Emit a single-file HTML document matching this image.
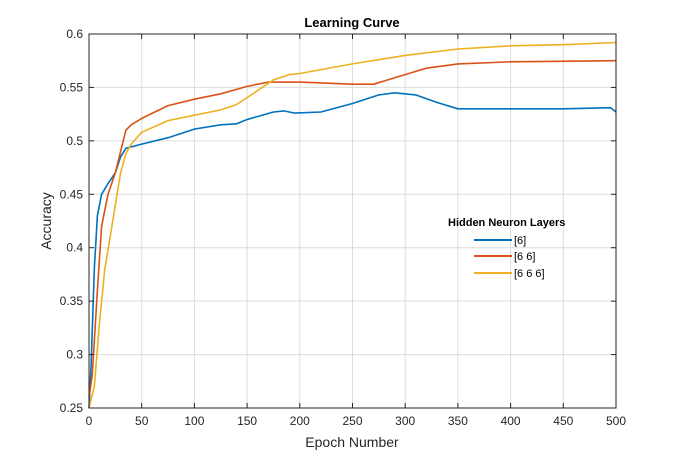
<!DOCTYPE html>
<html><head><meta charset="utf-8"><style>
body{margin:0;background:#fff;}
svg{display:block;font-family:"Liberation Sans",Arial,sans-serif;}
</style></head><body>
<svg id="chart" width="682" height="460">
<rect x="0" y="0" width="682" height="460" fill="#fff"/>
<g id="grid"></g>
<g id="series"></g>
<rect x="89" y="34" width="527" height="374" fill="none" stroke="#262626" stroke-width="1"/>
<g id="ticks"></g>
<text x="352" y="27" text-anchor="middle" font-size="13" font-weight="bold" fill="#000">Learning Curve</text>
<text x="352" y="447" text-anchor="middle" font-size="14" fill="#262626">Epoch Number</text>
<text transform="translate(51,221) rotate(-90)" text-anchor="middle" font-size="14" fill="#262626">Accuracy</text>
<g>
<text x="448" y="226" font-size="11" font-weight="bold" fill="#000">Hidden Neuron Layers</text>
<g><line x1="474" y1="240" x2="512" y2="240" stroke="#0072BD" stroke-width="2"/><text x="514" y="244" font-size="11" fill="#000">[6]</text></g>
<g><line x1="474" y1="256" x2="512" y2="256" stroke="#D95319" stroke-width="2"/><text x="514" y="260" font-size="11" fill="#000">[6 6]</text></g>
<g><line x1="474" y1="273" x2="512" y2="273" stroke="#EDB120" stroke-width="2"/><text x="514" y="277" font-size="11" fill="#000">[6 6 6]</text></g>
</g>
</svg>
<script>
const xTicks=[0,50,100,150,200,250,300,350,400,450,500];
const yTicks=[0.25,0.3,0.35,0.4,0.45,0.5,0.55,0.6];
const yTickLabels=["0.25","0.3","0.35","0.4","0.45","0.5","0.55","0.6"];
const epochs1=[0,2,5,8,12,18,25,30,35,50,75,100,125,140,150,175,185,195,220,250,275,290,310,330,350,400,450,495,500];
const acc1=[0.25,0.29,0.38,0.43,0.45,0.46,0.47,0.485,0.493,0.497,0.503,0.511,0.515,0.516,0.520,0.527,0.528,0.526,0.527,0.535,0.543,0.545,0.543,0.536,0.530,0.530,0.530,0.531,0.527];
const epochs2=[0,3,8,12,18,25,30,35,40,50,75,100,125,150,170,200,250,270,300,320,350,400,500];
const acc2=[0.26,0.28,0.36,0.42,0.45,0.47,0.49,0.51,0.515,0.521,0.533,0.539,0.544,0.551,0.555,0.555,0.553,0.553,0.562,0.568,0.572,0.574,0.575];
const epochs3=[0,5,10,15,20,25,30,35,40,50,75,100,125,140,160,175,190,200,250,300,350,400,450,500];
const acc3=[0.25,0.27,0.33,0.38,0.41,0.44,0.47,0.488,0.497,0.508,0.519,0.524,0.529,0.534,0.547,0.557,0.562,0.563,0.572,0.580,0.586,0.589,0.590,0.592];
const L=89,R=616,T=34,B=408;
const xs=v=>L+(v-0)/500*(R-L);
const ys=v=>B-(v-0.25)/0.35*(B-T);
const NS="http://www.w3.org/2000/svg";
const grid=document.getElementById('grid'),ticks=document.getElementById('ticks'),ser=document.getElementById('series');
function mk(tag,attrs,parent){const e=document.createElementNS(NS,tag);for(const k in attrs)e.setAttribute(k,attrs[k]);parent.appendChild(e);return e;}
xTicks.forEach((t,i)=>{
 const x=xs(t);
 const g=mk('line',{x1:x,y1:T,x2:x,y2:B,stroke:'#dcdcdc','stroke-width':1},grid);
 
 
 mk('line',{x1:x,y1:B,x2:x,y2:B-5,stroke:'#262626'},ticks);
 mk('line',{x1:x,y1:T,x2:x,y2:T+5,stroke:'#262626'},ticks);
 const tx=mk('text',{x:x,y:B+17,'text-anchor':'middle','font-size':12,fill:'#262626'},ticks);
 tx.textContent=t;
 
 
});
yTicks.forEach((t,i)=>{
 const y=ys(t);
 const g=mk('line',{x1:L,y1:y,x2:R,y2:y,stroke:'#dcdcdc','stroke-width':1},grid);
 
 
 mk('line',{x1:L,y1:y,x2:L+5,y2:y,stroke:'#262626'},ticks);
 mk('line',{x1:R,y1:y,x2:R-5,y2:y,stroke:'#262626'},ticks);
 const tx=mk('text',{x:L-6,y:y+4,'text-anchor':'end','font-size':12,fill:'#262626'},ticks);
 tx.textContent=yTickLabels[i];
 
 
});
function line(ex,ac,color,name){
 const d=ex.map((e,i)=>(i?'L':'M')+xs(e).toFixed(1)+','+ys(ac[i]).toFixed(1)).join('');
 const p=mk('path',{d:d,fill:'none',stroke:color,'stroke-width':1.6,'stroke-linejoin':'round'},ser);
 
 
}
line(epochs1,acc1,'#0072BD','series-6');
line(epochs2,acc2,'#D95319','series-6-6');
line(epochs3,acc3,'#EDB120','series-6-6-6');
</script>
</body></html>
